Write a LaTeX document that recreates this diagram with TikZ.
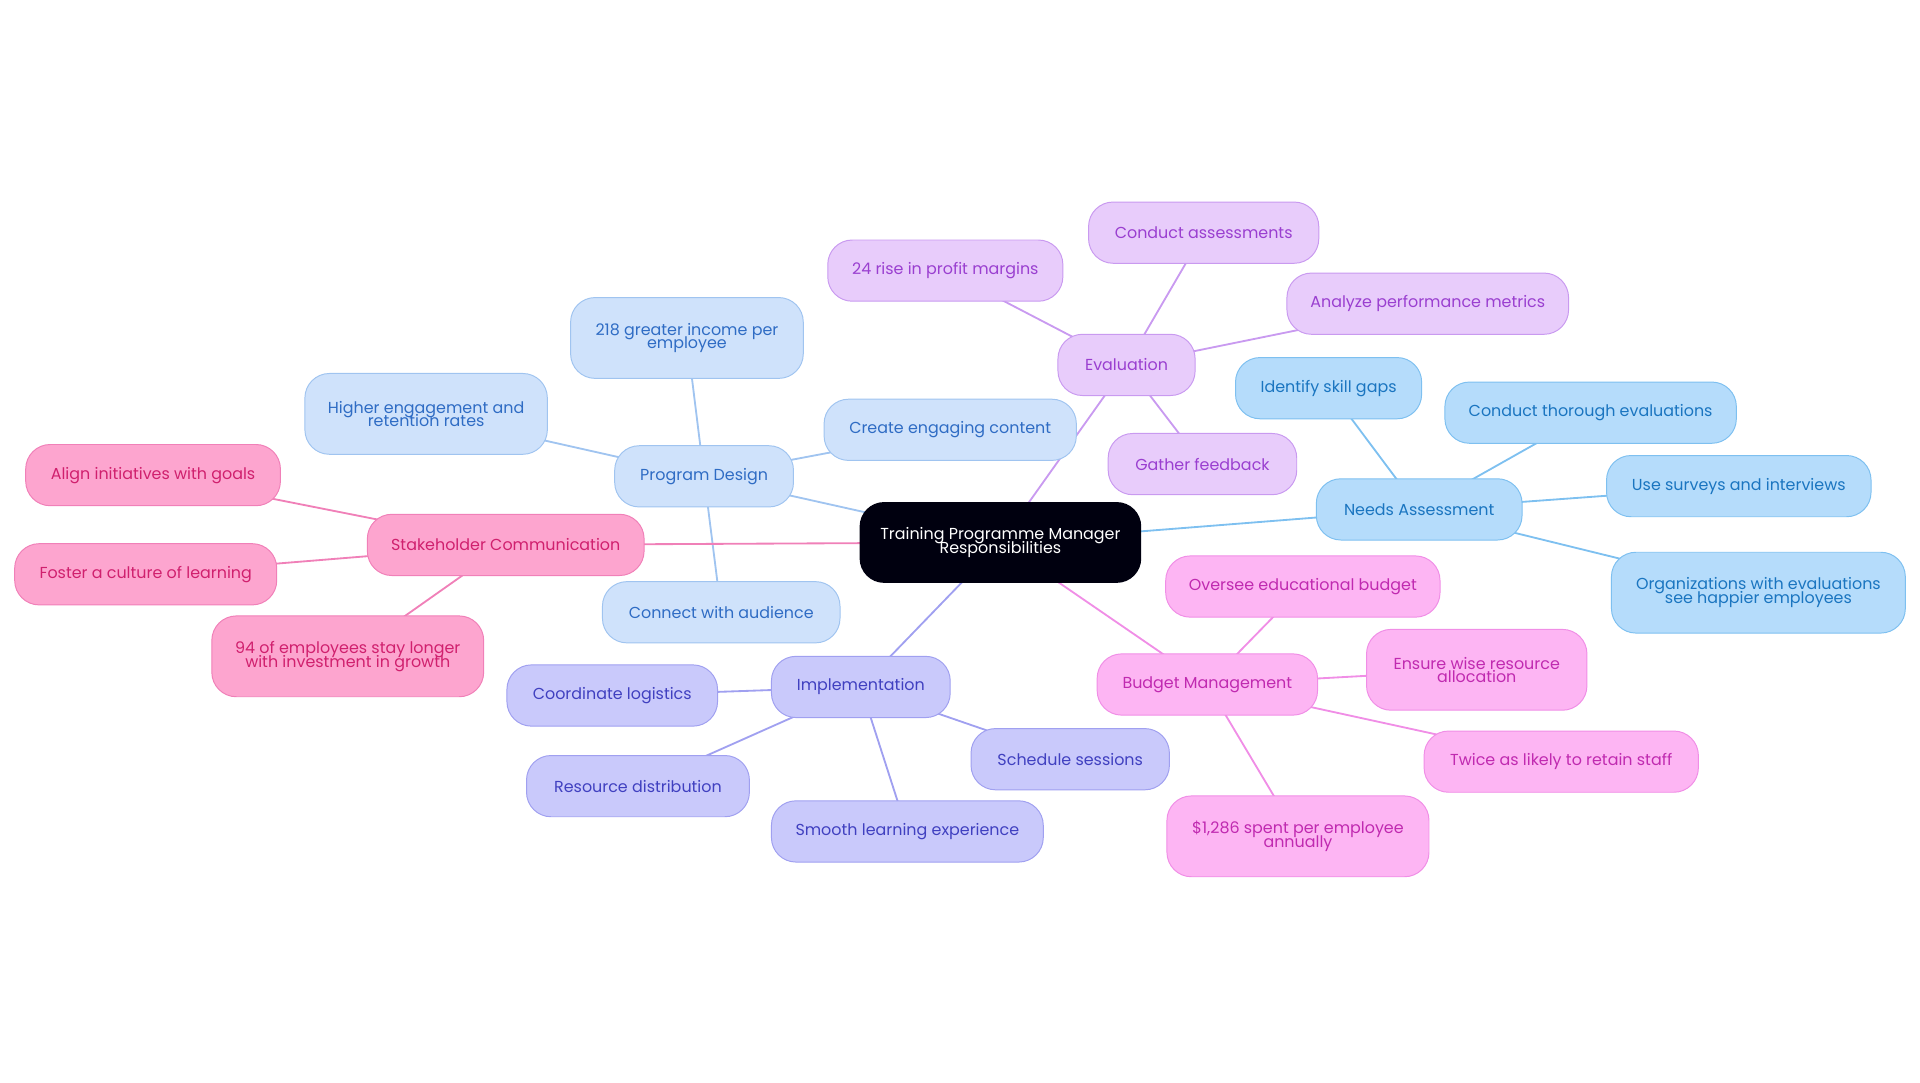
\documentclass[tikz,border=0pt]{standalone}
\usepackage{fontspec}
\setmainfont{Poppins}
\usetikzlibrary{backgrounds}
\definecolor{evF}{HTML}{E8CCFB}\definecolor{evB}{HTML}{C99AF0}\definecolor{evT}{HTML}{9A3FD0}
\definecolor{pdF}{HTML}{CFE2FB}\definecolor{pdB}{HTML}{A0C4F0}\definecolor{pdT}{HTML}{2F6CC4}
\definecolor{naF}{HTML}{B5DCFB}\definecolor{naB}{HTML}{7EC0F0}\definecolor{naT}{HTML}{1A75C0}
\definecolor{bmF}{HTML}{FDB5F3}\definecolor{bmB}{HTML}{F08EE6}\definecolor{bmT}{HTML}{C02AB0}
\definecolor{imF}{HTML}{C9C9FB}\definecolor{imB}{HTML}{A0A0F0}\definecolor{imT}{HTML}{4040C0}
\definecolor{scF}{HTML}{FDA5CF}\definecolor{scB}{HTML}{F080B8}\definecolor{scT}{HTML}{D0206E}
\tikzset{
 base/.style={rounded corners=20pt, minimum height=50pt, align=center, inner sep=4pt, font=\fontsize{13}{14}\selectfont, line width=0.8pt},
 ev/.style={base, fill=evF, draw=evB, text=evT}, pd/.style={base, fill=pdF, draw=pdB, text=pdT},
 na/.style={base, fill=naF, draw=naB, text=naT}, bm/.style={base, fill=bmF, draw=bmB, text=bmT},
 im/.style={base, fill=imF, draw=imB, text=imT}, sc/.style={base, fill=scF, draw=scB, text=scT},
 two/.style={minimum height=66pt},
 e/.style={line width=1.5pt}
}
\begin{document}
\begin{tikzpicture}[x=1pt,y=-1pt]
\useasboundingbox (0,0) rectangle (1568,884);
\node[base, fill=black!90!blue!60!black, draw=none, text=white, minimum width=230pt, minimum height=66pt] (c) at (817,443) {Training Programme Manager\\[-3pt]Responsibilities};
\node[ev, minimum width=112pt] (ev) at (920,298) {Evaluation};
\node[ev, minimum width=188pt] (ev1) at (983,190) {Conduct assessments};
\node[ev, minimum width=192pt] (ev2) at (772,221) {24 rise in profit margins};
\node[ev, minimum width=230pt] (ev3) at (1166,248) {Analyze performance metrics};
\node[ev, minimum width=154pt] (ev4) at (982,379) {Gather feedback};
\node[pd, minimum width=146pt] (pd) at (575,389) {Program Design};
\node[pd, two, minimum width=190pt] (pd1) at (561,276) {218 greater income per\\[-3pt]employee};
\node[pd, two, minimum width=198pt] (pd2) at (348,338) {Higher engagement and\\[-3pt]retention rates};
\node[pd, minimum width=206pt] (pd3) at (776,351) {Create engaging content};
\node[pd, minimum width=194pt] (pd4) at (589,500) {Connect with audience};
\node[na, minimum width=168pt] (na) at (1159,416) {Needs Assessment};
\node[na, minimum width=152pt] (na1) at (1085,317) {Identify skill gaps};
\node[na, minimum width=238pt] (na2) at (1299,337) {Conduct thorough evaluations};
\node[na, minimum width=216pt] (na3) at (1420,397) {Use surveys and interviews};
\node[na, two, minimum width=240pt] (na4) at (1436,484) {Organizations with evaluations\\[-3pt]see happier employees};
\node[bm, minimum width=180pt] (bm) at (986,559) {Budget Management};
\node[bm, minimum width=224pt] (bm1) at (1064,479) {Oversee educational budget};
\node[bm, two, minimum width=180pt] (bm2) at (1206,547) {Ensure wise resource\\[-3pt]allocation};
\node[bm, minimum width=224pt] (bm3) at (1275,622) {Twice as likely to retain staff};
\node[bm, two, minimum width=214pt] (bm4) at (1060,683) {\$1,286 spent per employee\\[-3pt]annually};
\node[im, minimum width=146pt] (im) at (703,561) {Implementation};
\node[im, minimum width=172pt] (im1) at (500,568) {Coordinate logistics};
\node[im, minimum width=182pt] (im2) at (521,642) {Resource distribution};
\node[im, minimum width=222pt] (im3) at (741,679) {Smooth learning experience};
\node[im, minimum width=162pt] (im4) at (874,620) {Schedule sessions};
\node[sc, minimum width=226pt] (sc) at (413,445) {Stakeholder Communication};
\node[sc, minimum width=208pt] (sc1) at (125,388) {Align initiatives with goals};
\node[sc, minimum width=214pt] (sc2) at (119,469) {Foster a culture of learning};
\node[sc, two, minimum width=222pt] (sc3) at (284,536) {94 of employees stay longer\\[-3pt]with investment in growth};
\begin{scope}[on background layer]
\draw[e, evB] (c.center) -- (ev.center) (ev.center)--(ev1.center) (ev.center)--(ev2.center) (ev.center)--(ev3.center) (ev.center)--(ev4.center);
\draw[e, pdB] (c.center) -- (pd.center) (pd.center)--(pd1.center) (pd.center)--(pd2.center) (pd.center)--(pd3.center) (pd.center)--(pd4.center);
\draw[e, naB] (c.center) -- (na.center) (na.center)--(na1.center) (na.center)--(na2.center) (na.center)--(na3.center) (na.center)--(na4.center);
\draw[e, bmB] (c.center) -- (bm.center) (bm.center)--(bm1.center) (bm.center)--(bm2.center) (bm.center)--(bm3.center) (bm.center)--(bm4.center);
\draw[e, imB] (c.center) -- (im.center) (im.center)--(im1.center) (im.center)--(im2.center) (im.center)--(im3.center) (im.center)--(im4.center);
\draw[e, scB] (c.center) -- (sc.center) (sc.center)--(sc1.center) (sc.center)--(sc2.center) (sc.center)--(sc3.center);
\end{scope}
\end{tikzpicture}
\end{document}
